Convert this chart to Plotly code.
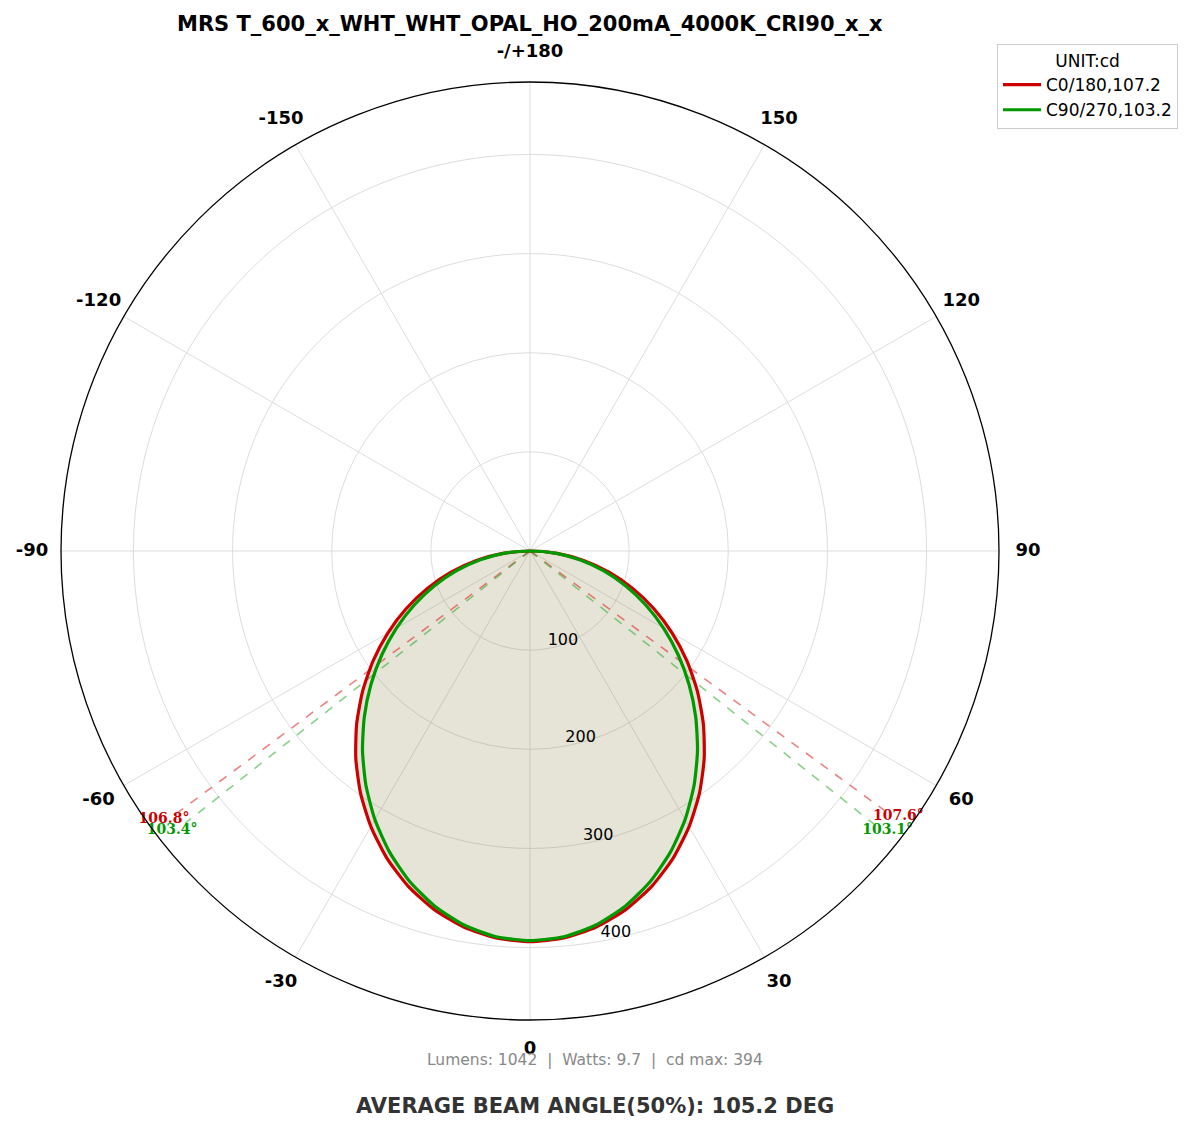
import plotly.graph_objects as go

# ---------------- data ----------------
angles = [-90, -85, -80, -75, -70, -65, -60, -55, -50, -45, -40, -35, -30, -25, -20, -15, -10, -5,
          0, 5, 10, 15, 20, 25, 30, 35, 40, 45, 50, 55, 60, 65, 70, 75, 80, 85, 90]

c0_180 = [0, 27.4, 54.9, 82.5, 110.2, 137.9, 165.6, 193.2, 220.5, 247.3, 273.3, 298.0, 320.9, 341.7,
          359.6, 374.2, 385.1, 391.8, 394, 391.8, 385.1, 374.2, 359.6, 341.7, 320.9, 298.0, 273.3,
          247.3, 220.5, 193.2, 165.6, 137.9, 110.2, 82.5, 54.9, 27.4, 0]

c90_270 = [0, 25.4, 50.9, 76.6, 102.5, 128.8, 155.5, 182.4, 209.4, 236.3, 262.8, 288.5, 312.8, 335.1,
           354.7, 370.9, 383.0, 390.5, 393, 390.5, 383.0, 370.9, 354.7, 335.1, 312.8, 288.5, 262.8,
           236.3, 209.4, 182.4, 155.5, 128.8, 102.5, 76.6, 50.9, 25.4, 0]

series_names = ["C0/180,107.2", "C90/270,103.2"]
series_colors = ["#cc0000", "#009900"]

# beam angles (left, right) per series
beam_left = [106.8, 103.4]
beam_right = [107.6, 103.1]

tick_vals = [0, 30, 60, 90, 120, 150, 180, 210, 240, 270, 300, 330]
tick_text = ["0", "30", "60", "90", "120", "150", "-/+180", "-150", "-120", "-90", "-60", "-30"]
radial_ticks = [100, 200, 300, 400]
radial_label_theta = 10.25
r_max = 473
beam_line_r = 443
beam_label_r = 458
# helper polar (same centre, larger) that carries the angular tick labels
label_r_max = 514
angle_label_r = 502

title_text = "MRS T_600_x_WHT_WHT_OPAL_HO_200mA_4000K_CRI90_x_x"
info_text = "Lumens: 1042  |  Watts: 9.7  |  cd max: 394"
avg_text = "AVERAGE BEAM ANGLE(50%): 105.2 DEG"

# page body has an 8px margin: work in reference pixels shifted by 8
OFF = 8
W, H = 1193 - OFF, 1133 - 2 * OFF


def px(x):
    return (x - OFF) / W


def py(y):
    return 1 - (y - OFF) / H


fig = go.Figure()

# fill (under the red curve)
fig.add_trace(go.Scatterpolar(
    r=c0_180, theta=angles, mode="lines", fill="toself",
    fillcolor="rgba(130,115,55,0.2)", line=dict(width=0, color="rgba(0,0,0,0)"),
    showlegend=False, hoverinfo="skip"))

# beam dashed lines
dash_colors = ["rgba(220,30,30,0.55)", "rgba(40,170,40,0.55)"]
for i in range(2):
    for th in (-beam_left[i] / 2, beam_right[i] / 2):
        fig.add_trace(go.Scatterpolar(
            r=[0, beam_line_r], theta=[0, th], mode="lines",
            line=dict(color=dash_colors[i], width=1.6, dash="dash"),
            showlegend=False, hoverinfo="skip"))

# curves
for vals, name, col in zip([c0_180, c90_270], series_names, series_colors):
    fig.add_trace(go.Scatterpolar(
        r=vals, theta=angles, mode="lines", name=name,
        line=dict(color=col, width=3.2, shape="spline", smoothing=0.6)))

# radial tick labels
fig.add_trace(go.Scatterpolar(
    r=radial_ticks, theta=[radial_label_theta] * len(radial_ticks), mode="text",
    text=[str(v) for v in radial_ticks], textposition="top right",
    textfont=dict(size=16, color="black"), showlegend=False, hoverinfo="skip"))

# beam labels
for i in range(2):
    fig.add_trace(go.Scatterpolar(
        r=[beam_label_r, beam_label_r],
        theta=[-beam_left[i] / 2 - 0.3, beam_right[i] / 2 + 0.4],
        mode="text",
        text=[f"{beam_left[i]}°", f"{beam_right[i]}°"],
        textfont=dict(family="DejaVu Serif", size=14, color=series_colors[i], weight="bold"),
        showlegend=False, hoverinfo="skip"))

# angular tick labels, centred at a fixed radius outside the frame (helper polar2)
fig.add_trace(go.Scatterpolar(
    r=[angle_label_r] * len(tick_vals), theta=tick_vals, mode="text", text=tick_text,
    textfont=dict(size=18, color="black", weight="bold"), subplot="polar2",
    showlegend=False, hoverinfo="skip"))

R_PX = 469
R2_PX = 510
CX, CY = 530, 551

fig.update_layout(
    width=W, height=H,
    paper_bgcolor="white",
    margin=dict(l=0, r=0, t=0, b=0),
    font=dict(family="DejaVu Sans", color="black"),
    polar=dict(
        domain=dict(x=[px(CX - R_PX), px(CX + R_PX)], y=[py(CY + R_PX), py(CY - R_PX)]),
        bgcolor="white",
        angularaxis=dict(
            rotation=-90, direction="counterclockwise",
            tickmode="array", tickvals=tick_vals, ticktext=tick_text,
            showticklabels=False,
            showline=True, linecolor="black", linewidth=1.3,
            gridcolor="#dddddd", gridwidth=1, ticks="",
        ),
        radialaxis=dict(
            range=[0, r_max], tickmode="array", tickvals=radial_ticks,
            showticklabels=False,
            showline=False, gridcolor="#dddddd", gridwidth=1, ticks="",
        ),
    ),
    polar2=dict(
        domain=dict(x=[px(CX - R2_PX), px(CX + R2_PX)], y=[py(CY + R2_PX), py(CY - R2_PX)]),
        bgcolor="rgba(0,0,0,0)",
        angularaxis=dict(rotation=-90, direction="counterclockwise", showline=False,
                         showgrid=False, showticklabels=False, ticks=""),
        radialaxis=dict(range=[0, label_r_max], showline=False, showgrid=False,
                        showticklabels=False, ticks=""),
    ),
    legend=dict(
        x=px(1178), xanchor="right", y=py(44), yanchor="top",
        bordercolor="#cccccc", borderwidth=1, bgcolor="white",
        font=dict(size=17, color="black"), itemwidth=38,
        title=dict(text="UNIT:cd", side="top center", font=dict(size=17)),
        tracegroupgap=0,
    ),
    annotations=[
        dict(text=f"<b>{title_text}</b>", x=px(530), y=py(24), xref="paper", yref="paper",
             showarrow=False, font=dict(size=21, color="black"), xanchor="center", yanchor="middle"),
        dict(text=info_text, x=px(595), y=py(1060), xref="paper", yref="paper",
             showarrow=False, font=dict(size=15.5, color="#888888"), xanchor="center", yanchor="middle"),
        dict(text=f"<b>{avg_text}</b>", x=px(595), y=py(1106), xref="paper", yref="paper",
             showarrow=False, font=dict(size=21, color="#333333"), xanchor="center", yanchor="middle"),
    ],
)

fig.write_html("out.html")
